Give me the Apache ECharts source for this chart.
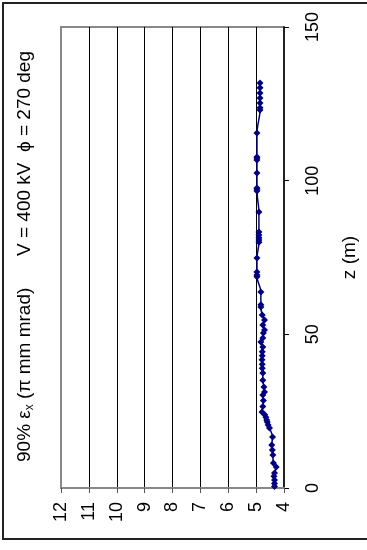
<!DOCTYPE html>
<html>
<head>
<meta charset="utf-8">
<script src="https://cdn.jsdelivr.net/npm/echarts@6/dist/echarts.min.js"></script>
<style>
  html, body { margin: 0; padding: 0; background: #fff; }
  #chart { width: 367px; height: 550px; }
</style>
</head>
<body>
<div id="chart"></div>
<script>
// Position along the line, z (m)
const zPos = [
  0.5, 1.5, 2.6, 3.8, 4.9, 6.8, 8.1, 10.7, 12.4, 14.0, 16.6, 19.5, 20.5, 21.5, 22.1,
  23.0, 23.8, 24.7, 26.5, 28.5, 30.3, 31.2, 32.9, 35.1, 37.4, 39.0, 40.3, 41.7, 43.0,
  44.3, 45.9, 47.5, 48.8, 50.4, 51.4, 53.0, 54.7, 56.3, 58.9, 59.6, 63.8, 68.7, 69.3,
  70.3, 74.8, 80.0, 80.7, 81.4, 82.3, 83.3, 89.8, 96.6, 97.3, 97.6, 102.5, 106.7,
  107.4, 107.7, 115.5, 123.0, 123.7, 125.3, 126.9, 128.5, 130.2, 131.8
];
// 90% horizontal emittance (pi mm mrad)
const emitX = [
  4.34, 4.34, 4.34, 4.36, 4.34, 4.28, 4.38, 4.40, 4.42, 4.44, 4.41, 4.52, 4.57, 4.60, 4.62,
  4.65, 4.69, 4.79, 4.76, 4.74, 4.76, 4.70, 4.72, 4.76, 4.76, 4.78, 4.78, 4.79, 4.78,
  4.78, 4.76, 4.83, 4.76, 4.74, 4.70, 4.76, 4.70, 4.78, 4.83, 4.83, 4.83, 4.97, 4.97,
  4.97, 4.97, 4.90, 4.90, 4.90, 4.90, 4.90, 4.90, 4.97, 4.97, 4.97, 4.97, 4.97,
  4.97, 4.97, 4.97, 4.86, 4.86, 4.86, 4.86, 4.86, 4.86, 4.86
];
const emitTicks = [4, 12, 1];   // min, max, step
const zTicks = [0, 150, 50];    // min, max, step

const chart = echarts.init(document.getElementById('chart'));
const FONT = 'Liberation Sans, Arial, sans-serif';

chart.setOption({
  animation: false,
  backgroundColor: '#fff',
  grid: {
    left: 61, top: 27, right: 77, bottom: 62,
    show: true, borderColor: '#888', borderWidth: 2, backgroundColor: '#fff'
  },
  xAxis: {
    type: 'value',
    min: emitTicks[0], max: emitTicks[1], interval: emitTicks[2],
    inverse: true,
    position: 'bottom',
    axisLine: { show: true, lineStyle: { color: '#888', width: 2 } },
    axisTick: { show: true, length: 5, lineStyle: { color: '#555', width: 1 } },
    axisLabel: { rotate: 90, fontSize: 18, color: '#000', fontFamily: FONT, margin: 14 },
    splitLine: { show: true, showMinLine: false, showMaxLine: false,
                 lineStyle: { color: '#000', width: 1 } }
  },
  yAxis: {
    type: 'value',
    min: zTicks[0], max: zTicks[1], interval: zTicks[2],
    position: 'right',
    axisLine: { show: true, lineStyle: { color: '#000', width: 1.5 } },
    axisTick: { show: true, length: 5, lineStyle: { color: '#000', width: 1 } },
    axisLabel: { rotate: 90, fontSize: 18, color: '#000', fontFamily: FONT, margin: 20 },
    splitLine: { show: false },
    name: 'z (m)',
    nameLocation: 'middle',
    nameRotate: 90,
    nameGap: 56,
    nameTextStyle: { fontSize: 19, color: '#000', fontFamily: FONT }
  },
  series: [{
    type: 'line',
    data: zPos.map((z, i) => [emitX[i], z]),
    smooth: 0.3,
    symbol: 'diamond',
    symbolSize: 7,
    lineStyle: { color: '#000080', width: 1.5 },
    itemStyle: { color: '#000080' }
  }],
  graphic: [
    {
      type: 'rect',
      shape: { x: 3, y: 3, width: 380, height: 536 },
      style: { fill: 'none', stroke: '#222', lineWidth: 2 },
      z: 100
    },
    {
      type: 'text',
      x: 25, y: 462,
      rotation: Math.PI / 2,
      style: {
        text: '{t|90% ε}{s|x}{t| (π mm mrad)      V = 400 kV  ϕ = 270 deg}',
        align: 'left',
        verticalAlign: 'middle',
        rich: {
          t: { fontSize: 19, fontFamily: FONT, fill: '#000' },
          s: { fontSize: 12, fontFamily: FONT, fill: '#000', padding: [9, 0, 0, 0] }
        }
      },
      z: 100
    }
  ]
});
</script>
</body>
</html>
